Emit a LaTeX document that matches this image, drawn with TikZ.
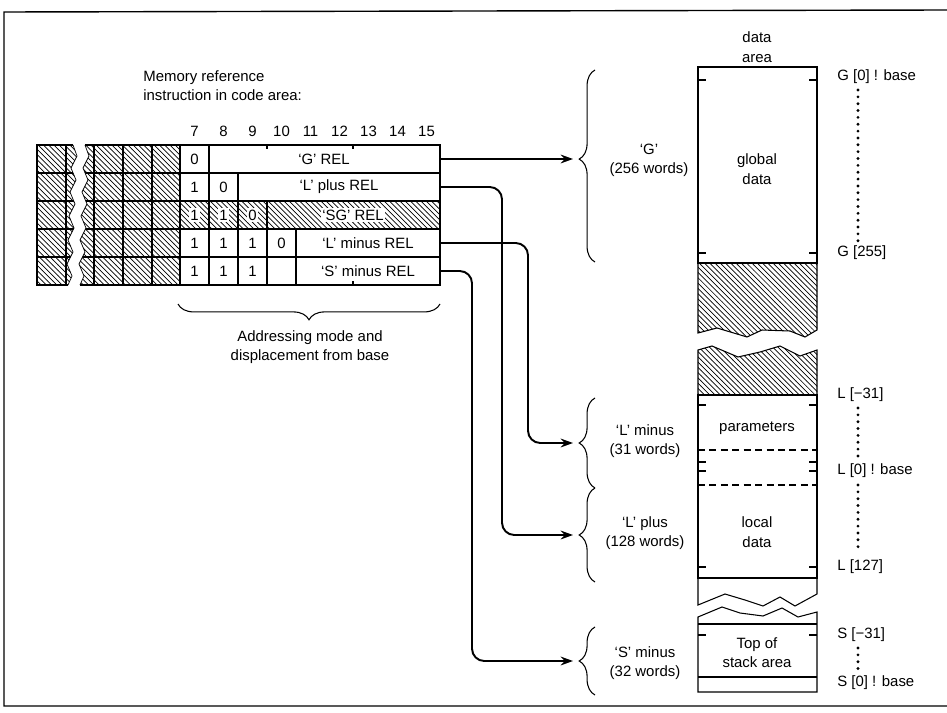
\documentclass[tikz,border=0pt]{standalone}
\usepackage{fontspec}
\setmainfont{Liberation Sans}
\usetikzlibrary{arrows.meta,decorations.pathreplacing,patterns}
\begin{document}
\begin{tikzpicture}[x=0.02cm,y=-0.02cm,
  font=\fontsize{8.5}{11}\selectfont,
  cell/.style={draw,line width=0.6pt},
  hatch/.style={pattern=north west lines},
  notch/.style={line width=0.6pt},
  link/.style={line width=1.1pt,rounded corners=7pt,-{Stealth[length=7pt,width=5pt]}},
  brc/.style={decorate,decoration={brace,amplitude=9pt},line width=0.6pt},
  bit/.style={inner sep=1pt},
  hbit/.style={inner sep=1pt,fill=white},
  lbl/.style={align=center,inner sep=0pt},
  addr/.style={anchor=west,inner sep=0pt},
  dotline/.style={line width=1.8pt,line cap=round,dash pattern=on 0pt off 3.9pt},
  dashline/.style={line width=0.6pt,dash pattern=on 4pt off 2.5pt}]
\useasboundingbox (0,0) rectangle (947,713);
\draw[line width=0.8pt] (947,10) -- (4,12) -- (4,706) -- (947,706);

% instruction word
\node[lbl,align=left,anchor=west] (title) at (143,86) {Memory reference\\instruction in code area:};
\foreach \n [count=\i from 0] in {7,...,15}
  \node[bit] (b\n) at (194.5+29*\i,131) {\n};

\begin{scope}
\clip (37,145) -- (73,145) -- (77,156) -- (71,168) -- (76,180) -- (70,192) -- (75,204) -- (69,216) -- (74,228) -- (68,240) -- (73,252) -- (67,264) -- (72,276) -- (68,285) -- (37,285) -- cycle
      (180,145) -- (85,145) -- (89,156) -- (83,168) -- (88,180) -- (82,192) -- (87,204) -- (81,216) -- (86,228) -- (80,240) -- (85,252) -- (79,264) -- (84,276) -- (80,285) -- (180,285) -- cycle;
\fill[hatch] (37,145) rectangle (180,285);
\foreach \y in {145,173,201,229,257,285} \draw[cell] (37,\y) -- (180,\y);
\foreach \x in {37,66,94,123,152} \draw[cell] (\x,145) -- (\x,285);
\end{scope}
\draw[line width=0.4pt] (73,145) -- (77,156) -- (71,168) -- (76,180) -- (70,192) -- (75,204) -- (69,216) -- (74,228) -- (68,240) -- (73,252) -- (67,264) -- (72,276) -- (68,285);
\draw[line width=0.4pt] (85,145) -- (89,156) -- (83,168) -- (88,180) -- (82,192) -- (87,204) -- (81,216) -- (86,228) -- (80,240) -- (85,252) -- (79,264) -- (84,276) -- (80,285);
\draw[cell] (73,145) -- (37,145) -- (37,285) -- (68,285);
\draw[cell] (85,145) -- (180,145);
\draw[cell] (80,285) -- (180,285);

\fill[hatch] (180,201) rectangle (440,229);
\draw[cell] (180,145) rectangle (440,285);
\foreach \y in {173,201,229,257} \draw[cell] (180,\y) -- (440,\y);
\draw[cell] (209,145) -- (209,285);
\draw[cell] (238,173) -- (238,285);
\draw[cell] (267,201) -- (267,285);
\draw[cell] (296,229) -- (296,285);
\draw[notch] (267,145) -- (267,149) (353,145) -- (353,149) (353,285) -- (353,281);

\node[bit] (g0) at (194.5,159) {0};
\node[bit] (gRel) at (324,159) {‘G’ REL};
\node[bit] (lp0) at (194.5,187) {1};
\node[bit] (lp1) at (223.5,187) {0};
\node[bit] (lpRel) at (339,187) {‘L’ plus REL};
\foreach \d [count=\i from 0] in {1,1,0}
  \node[hbit] (sg\i) at (194.5+29*\i,215) {\d};
\node[hbit] (sgRel) at (353,215) {‘SG’ REL};
\foreach \d [count=\i from 0] in {1,1,1,0}
  \node[bit] (lm\i) at (194.5+29*\i,243) {\d};
\node[bit] (lmRel) at (368,243) {‘L’ minus REL};
\foreach \d [count=\i from 0] in {1,1,1}
  \node[bit] (sm\i) at (194.5+29*\i,271) {\d};
\node[bit] (smRel) at (368,271) {‘S’ minus REL};

\draw[brc,decoration={mirror}] (178,304) -- (440,304);
\node[lbl] (mode) at (310,347) {Addressing mode and\\displacement from base};

% braces and arrows
\coordinate (gout) at (440,159);
\coordinate (lpout) at (440,187);
\coordinate (lmout) at (440,243);
\coordinate (smout) at (440,271);
\coordinate (gin) at (573,159);
\coordinate (lmin) at (573,443);
\coordinate (lpin) at (573,535);
\coordinate (smin) at (573,661);

\draw[brc,decoration={aspect=0.536}] (595,262) -- (595,70);
\draw[brc] (595,488) -- (595,398);
\draw[brc] (595,582) -- (595,488);
\draw[brc] (595,695) -- (595,627);
\node[lbl] (gWords) at (649,160) {‘G’\\(256 words)};
\node[lbl] (lmWords) at (645,441) {‘L’ minus\\(31 words)};
\node[lbl] (lpWords) at (645,533) {‘L’ plus\\(128 words)};
\node[lbl] (smWords) at (645,663) {‘S’ minus\\(32 words)};

\draw[link] (gout) -- (gin);
\draw[link] (lpout) -- ++(62,0) |- (lpin);
\draw[link] (lmout) -- ++(88,0) |- (lmin);
\draw[link] (smout) -- ++(32,0) |- (smin);

% data area
\node[lbl] (area) at (757,47) {data\\area};
\draw[cell] (698,67) rectangle (817,263);
\draw[notch] (698,80) -- ++(8,0) (817,80) -- ++(-8,0) (698,253) -- ++(8,0) (817,253) -- ++(-8,0);
\node[lbl] (glob) at (757,169) {global\\data};
\draw[cell,hatch] (698,263) -- (817,263) -- (817,330) -- (805,337) -- (790,331) -- (762,330) -- (747,337) -- (717,328) -- (698,333) -- cycle;
\draw[cell,hatch] (698,350) -- (712,346) -- (738,357) -- (760,352) -- (780,346) -- (800,356) -- (817,350) -- (817,395) -- (698,395) -- cycle;
\draw[cell] (698,395) rectangle (817,578);
\draw[notch] (698,405) -- ++(8,0) (817,405) -- ++(-8,0);
\draw[notch] (698,462) -- ++(8,0) (817,462) -- ++(-8,0) (698,471) -- ++(8,0) (817,471) -- ++(-8,0);
\draw[notch] (698,567) -- ++(8,0) (817,567) -- ++(-8,0);
\draw[dashline] (698,450) -- (817,450) (698,485) -- (817,485);
\node[lbl] (param) at (757,428) {parameters};
\node[lbl] (loc) at (757,532) {local\\data};
\draw[cell] (698,578) -- (698,605) -- (725,594) -- (745,600) -- (763,606) -- (780,597) -- (795,606) -- (817,594) -- (817,578);
\draw[cell] (698,617) -- (722,607) -- (740,613) -- (763,616) -- (782,608) -- (798,617) -- (817,612) -- (817,692) -- (698,692) -- cycle;
\draw[cell] (698,624) -- (817,624) (698,677) -- (817,677);
\draw[notch] (698,635) -- ++(8,0) (817,635) -- ++(-8,0);
\node[lbl] (stack) at (757,653) {Top of\\stack area};

\node[addr] (gBase) at (837,77) {G [0] ! base};
\node[addr] (gEnd) at (837,253) {G [255]};
\node[addr] (lTop) at (837,395) {L [−31]};
\node[addr] (lBase) at (837,471) {L [0] ! base};
\node[addr] (lEnd) at (837,567) {L [127]};
\node[addr] (sTop) at (837,635) {S [−31]};
\node[addr] (sBase) at (837,683) {S [0] ! base};
\draw[dotline] (858,90) -- (858,242);
\draw[dotline] (858,408) -- (858,458);
\draw[dotline] (858,485) -- (858,553);
\draw[dotline] (858,648) -- (858,669);
\end{tikzpicture}
\end{document}
